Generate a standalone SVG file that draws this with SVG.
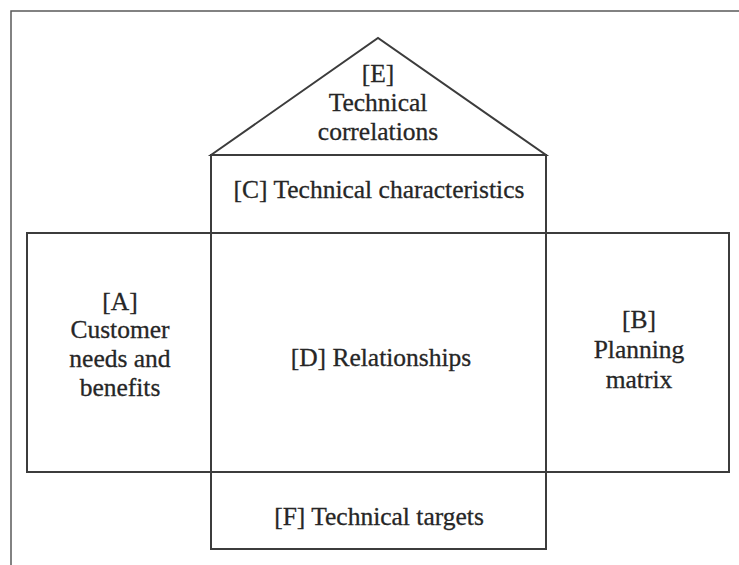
<svg xmlns="http://www.w3.org/2000/svg" width="739" height="565" viewBox="0 0 739 565">
  <style>
    .frame { fill: none; stroke: #5a5a5a; stroke-width: 1.5; }
    .cell { fill: none; stroke: #3c3c3c; stroke-width: 2; stroke-linejoin: miter; }
    .label { font-family: "Liberation Serif", "Times New Roman", serif; font-size: 25.5px; fill: #262626; stroke: #262626; stroke-width: 0.3; text-anchor: middle; }
  </style>
  <rect width="739" height="565" fill="#ffffff"/>
  <!-- page border -->
  <path class="frame" d="M11,565 V11 H739"/>

  <!-- house of quality rooms -->
  <g id="customer-needs">
    <rect class="cell" x="27" y="233" width="184" height="239"/>
    <text class="label" x="120" y="310">[A]</text>
    <text class="label" x="120" y="338">Customer</text>
    <text class="label" x="120" y="367">needs and</text>
    <text class="label" x="120" y="396">benefits</text>
  </g>
  <g id="planning-matrix">
    <rect class="cell" x="546" y="233" width="183" height="239"/>
    <text class="label" x="639" y="328">[B]</text>
    <text class="label" x="639" y="358">Planning</text>
    <text class="label" x="639" y="388">matrix</text>
  </g>
  <g id="technical-characteristics">
    <rect class="cell" x="211" y="155" width="335" height="78"/>
    <text class="label" x="379" y="198">[C] Technical characteristics</text>
  </g>
  <g id="relationships">
    <rect class="cell" x="211" y="233" width="335" height="239"/>
    <text class="label" x="381" y="366">[D] Relationships</text>
  </g>
  <g id="technical-correlations">
    <path class="cell" d="M211,155 L378,38 L546,155 Z"/>
    <text class="label" x="378" y="82">[E]</text>
    <text class="label" x="378" y="111">Technical</text>
    <text class="label" x="378" y="140">correlations</text>
  </g>
  <g id="technical-targets">
    <rect class="cell" x="211" y="472" width="335" height="77"/>
    <text class="label" x="379" y="525">[F] Technical targets</text>
  </g>
  <g id="connectors"/>
</svg>
